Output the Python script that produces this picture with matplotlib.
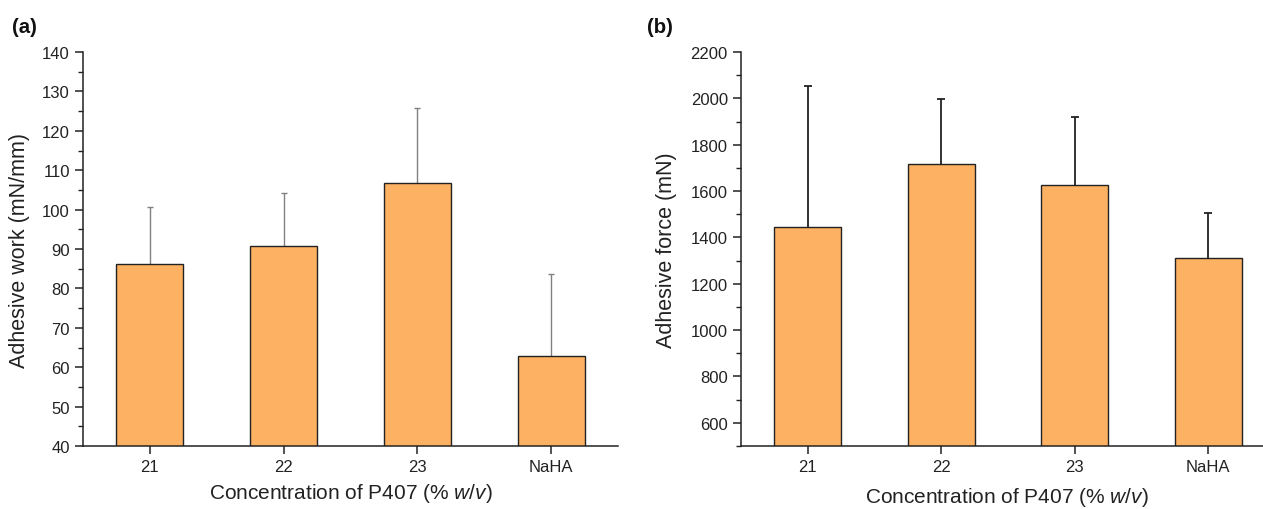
import matplotlib
matplotlib.use("Agg")
import matplotlib.pyplot as plt
from matplotlib.ticker import MultipleLocator

plt.rcParams['font.family'] = ['Liberation Sans', 'DejaVu Sans']
plt.rcParams['mathtext.fontset'] = 'custom'
plt.rcParams['mathtext.rm'] = 'Liberation Sans'
plt.rcParams['mathtext.it'] = 'Liberation Sans:italic'

categories = ["21", "22", "23", "NaHA"]
work_values = [86.1, 90.8, 106.8, 62.8]
work_err = [14.6, 13.4, 19.0, 20.9]
force_values = [1446, 1715, 1625, 1311]
force_err = [607, 282, 296, 194]

bar_color = '#FDB162'
ink = '#222222'
fig = plt.figure(figsize=(12.63, 5.10), dpi=100)
# axes boxes in figure fraction (pixels: a 83..618, b 741..1263; y 53..447)
axA = fig.add_axes([83 / 1263, 1 - 447 / 510, 535 / 1263, 394 / 510])
axB = fig.add_axes([741 / 1263, 1 - 447 / 510, 522 / 1263, 394 / 510])

xpos = list(range(len(categories)))

def style(ax):
    for s in ['top', 'right']:
        ax.spines[s].set_visible(False)
    for s in ['left', 'bottom']:
        ax.spines[s].set_linewidth(1.1)
        ax.spines[s].set_color(ink)
    ax.tick_params(axis='both', which='major', direction='out', length=6, width=1.1,
                   labelsize=12, colors=ink, labelcolor=ink)
    ax.tick_params(axis='y', which='minor', direction='out', length=3.5, width=1.0, colors=ink)
    ax.tick_params(axis='x', which='minor', length=0)
    ax.set_xticks(xpos)
    ax.set_xticklabels(categories)

xlabel_text = "Concentration of P407 (% $\\mathit{w/v}$)"

# Panel (a)
axA.bar(xpos, work_values, width=0.5, color=bar_color, edgecolor=ink, linewidth=1.0, zorder=2)
ebA = axA.errorbar(xpos, work_values, yerr=[[0] * 4, work_err], fmt='none', ecolor='#808080',
                   elinewidth=1.0, capsize=2.5, capthick=1.0, zorder=1)
ebA[1][0].set_visible(False)
axA.set_xlim(-0.5, 3.5)
axA.set_ylim(40, 140)
axA.yaxis.set_major_locator(MultipleLocator(10))
axA.yaxis.set_minor_locator(MultipleLocator(5))
style(axA)
axA.set_ylabel("Adhesive work (mN/mm)", fontsize=15.5, color=ink, va='center')
axA.yaxis.set_label_coords(-0.118, 0.5)
axA.set_xlabel(xlabel_text, fontsize=15, color=ink, va='center')
axA.xaxis.set_label_coords(0.5, -0.117)

# Panel (b)
axB.bar(xpos, force_values, width=0.5, color=bar_color, edgecolor=ink, linewidth=1.0, zorder=2)
ebB = axB.errorbar(xpos, force_values, yerr=[[0] * 4, force_err], fmt='none', ecolor=ink,
                   elinewidth=1.3, capsize=3, capthick=1.3, zorder=1)
ebB[1][0].set_visible(False)
axB.set_xlim(-0.5, 3.41)
axB.set_ylim(500, 2200)
axB.set_yticks(range(600, 2201, 200))
axB.yaxis.set_minor_locator(MultipleLocator(100))
style(axB)
axB.set_ylabel("Adhesive force (mN)", fontsize=15.5, color=ink, va='center')
axB.yaxis.set_label_coords(-0.142, 0.5)
axB.set_xlabel(xlabel_text, fontsize=15, color=ink, va='center')
axB.xaxis.set_label_coords(0.51, -0.129)

fig.text(0.0095, 1 - 27.5 / 510, "(a)", fontsize=14.7, fontweight='bold', va='center', ha='left', color='#111111')
fig.text(647 / 1263, 1 - 27.5 / 510, "(b)", fontsize=14.7, fontweight='bold', va='center', ha='left', color='#111111')

fig.savefig("out.png", dpi=100, facecolor='white')
